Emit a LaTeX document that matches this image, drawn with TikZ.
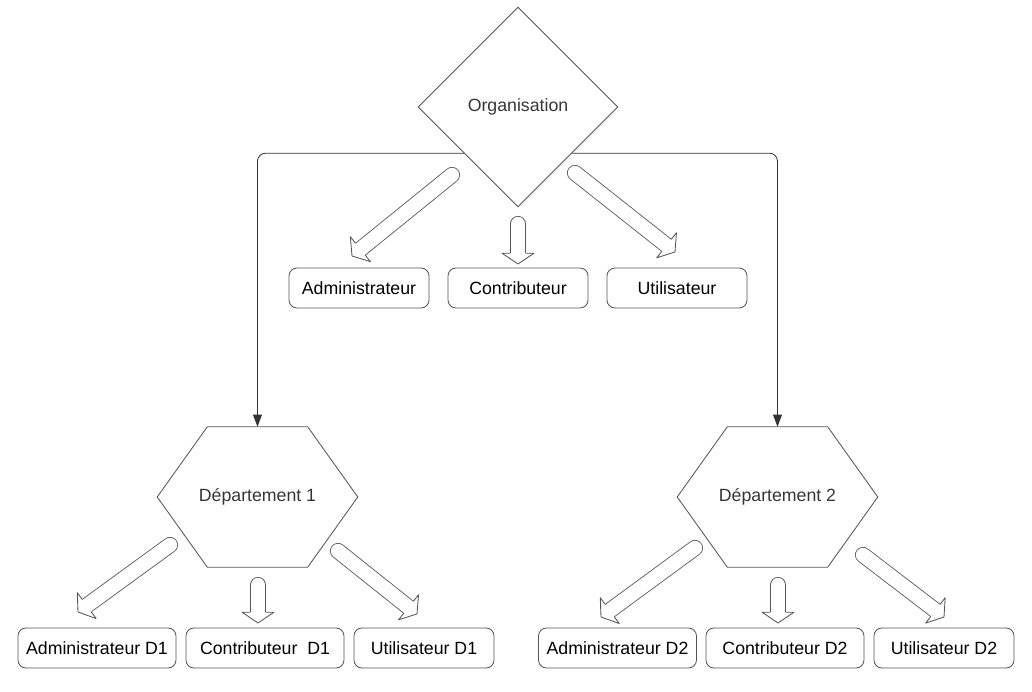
\documentclass[tikz,border=0pt]{standalone}
\usepackage{fontspec}
\setmainfont{Liberation Sans}
\usetikzlibrary{arrows.meta, positioning, shapes.geometric, calc}
\definecolor{lcdark}{HTML}{333333}
\definecolor{lcline}{HTML}{555555}
\definecolor{lctext}{HTML}{363636}

\begin{document}
\begin{tikzpicture}[
  every node/.style={font=\fontsize{12.6}{15}\selectfont},
  rolebox/.style={rectangle, draw=lcline, line width=0.6pt, rounded corners=0.2cm, minimum width=3.5cm, minimum height=1cm, inner sep=0pt, text=black},
  orgnode/.style={diamond, draw=lcline, line width=0.6pt, minimum width=5cm, minimum height=5cm, inner sep=0pt, text=lctext},
  deptnode/.style={rectangle, minimum width=5cm, minimum height=3.5cm, inner sep=0pt, text=lctext},
  link/.style={draw=lcdark, line width=0.6pt, rounded corners=0.2cm, -{Triangle[length=0.3cm, width=0.22cm]}},
  fatshaft/.style={draw=lcline, line width=0.6pt, double=white, double distance=0.36cm, line cap=round},
  fathead/.style={draw=lcline, line width=0.6pt, line join=round},
]
\useasboundingbox (0,0) rectangle (25.8,17.3);

% Top: organisation and its roles
\node[orgnode] (org) at (12.95, 14.625) {Organisation};

\node[rolebox] (adm) at (8.975, 10.1) {Administrateur};
\node[rolebox] (con) at (12.95, 10.1) {Contributeur};
\node[rolebox] (uti) at (16.925, 10.1) {Utilisateur};

% Departments
\node[deptnode] (d1) at (6.4375, 4.875) {Département 1};
\node[deptnode] (d2) at (19.4375, 4.875) {Département 2};

\foreach \d in {d1,d2}
  \draw[lcline, line width=0.6pt] (\d.west) -- ($(\d.north west)!.25!(\d.north east)$) -- ($(\d.north west)!.75!(\d.north east)$) -- (\d.east) -- ($(\d.south west)!.75!(\d.south east)$) -- ($(\d.south west)!.25!(\d.south east)$) -- cycle;

\node[rolebox, minimum width=3.95cm] (adm1) at (2.425, 1.1) {Administrateur D1};
\node[rolebox, minimum width=3.95cm] (con1) at (6.625, 1.1) {Contributeur\ \ D1};
\node[rolebox] (uti1) at (10.6, 1.1) {Utilisateur D1};

\node[rolebox, minimum width=3.95cm] (adm2) at (15.4375, 1.1) {Administrateur D2};
\node[rolebox, minimum width=3.95cm] (con2) at (19.625, 1.1) {Contributeur D2};
\node[rolebox] (uti2) at (23.6, 1.1) {Utilisateur D2};

% Organisation to departments
\draw[link] ($(org.west)!.46!(org.south)$) -| (d1.north);
\draw[link] ($(org.east)!.46!(org.south)$) -| (d2.north);

% Block arrows (tail x/y, tip x/y)
\foreach \tx/\ty/\px/\py in {11.3/12.925/8.8/10.9, 12.95/11.7/12.95/10.7, 14.375/12.975/16.875/11.0,
    4.25/3.675/1.95/2.0, 6.45/2.675/6.45/1.725, 8.45/3.525/10.425/1.95,
    17.375/3.6/15.025/1.875, 19.45/2.675/19.45/1.725, 21.575/3.425/23.6/1.875}{
  \coordinate (tail) at (\tx,\ty);
  \coordinate (tip) at (\px,\py);
  \coordinate (base) at ($(tip)!0.27cm!(tail)$);
  \draw[fatshaft] (tail) -- (base);
  \fill[white] ($(base)!0.4cm!90:(tip)$) -- (tip) -- ($(base)!0.4cm!-90:(tip)$) -- cycle;
  \draw[fathead] ($(base)!0.19cm!90:(tip)$) -- ($(base)!0.4cm!90:(tip)$) -- (tip) -- ($(base)!0.4cm!-90:(tip)$) -- ($(base)!0.19cm!-90:(tip)$);
}

\end{tikzpicture}
\end{document}
